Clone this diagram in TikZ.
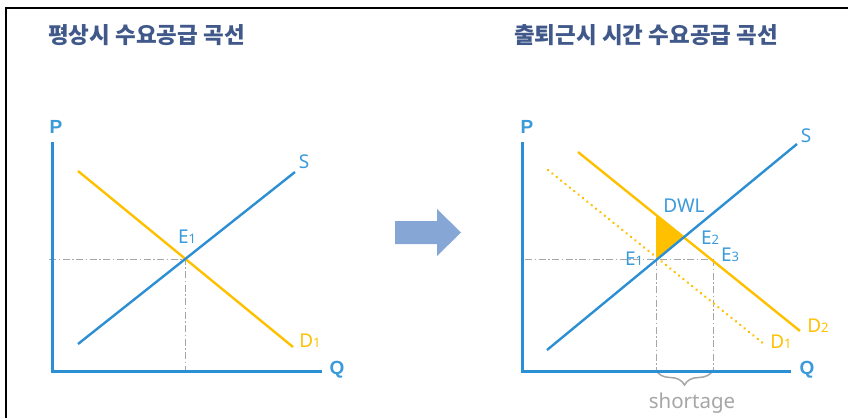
\documentclass[tikz,border=0pt]{standalone}
\usepackage{fontspec}
\setmainfont{Noto Sans}
\newfontfamily\krfont{Noto Sans CJK KR}
\newfontfamily\axfont{Liberation Sans}
\usetikzlibrary{decorations.pathreplacing}
\definecolor{lineblue}{HTML}{2C8FD4}
\definecolor{labblue}{HTML}{3A9ADA}
\definecolor{dyellow}{HTML}{FFC000}
\definecolor{dgray}{HTML}{A6A6A6}
\definecolor{titlecol}{HTML}{40598A}
\definecolor{arrowcol}{HTML}{86A7D6}
\newcommand\smd[1]{{\fontsize{13}{12}\selectfont #1}}
\tikzset{
  axisline/.style={draw=lineblue,line width=3pt},
  supply/.style={draw=lineblue,line width=2.4pt},
  demand/.style={draw=dyellow,line width=2.4pt},
  olddemand/.style={draw=dyellow,line width=2.8pt,line cap=round,dash pattern=on 0.01pt off 5.6pt},
  guide/.style={draw=dgray,line width=0.9pt,dash pattern=on 7pt off 2.5pt on 1.5pt off 2.5pt},
  lab/.style={text=labblue,font=\fontsize{19}{19}\selectfont,inner sep=0pt},
  axlab/.style={text=labblue,font=\axfont\bfseries\fontsize{19}{19}\selectfont,inner sep=0pt},
  titletext/.style={text=titlecol,font=\krfont\bfseries\fontsize{22.5}{22.5}\selectfont,inner sep=0pt,anchor=west},
}
\begin{document}
\begin{tikzpicture}[x=1pt,y=-1pt]
\useasboundingbox (0,0) rectangle (848,418);
% frame
\coordinate (fTL) at (6,8);
\coordinate (fTR) at (848,8);
\coordinate (fBL) at (6,418);
\draw[line width=1.4pt] (fTR) -- (fTL) -- (fBL);
% titles
\node[titletext] (t1) at (48,35) {평상시 수요공급 곡선};
\node[titletext] (t2) at (514,35) {출퇴근시 시간 수요공급 곡선};
% ===== left panel =====
\coordinate (lO) at (52,371);
\coordinate (lPtop) at (52,142);
\coordinate (lQend) at (322,371);
\coordinate (lS1) at (78,344);
\coordinate (lS2) at (295,172);
\coordinate (lD1) at (78,171);
\coordinate (lD2) at (293,347);
\coordinate (lE) at (185.5,259);
\coordinate (lEy) at (49,259);
\coordinate (lEx) at (185.5,371);
\draw[guide] (lEy) -- (lE) -- (lEx);
\draw[demand] (lD1) -- (lD2);
\draw[supply] (lS1) -- (lS2);
\draw[axisline] (lPtop) -- (lO) -- (lQend);
\node[axlab] (lP) at (56,127) {P};
\node[axlab] (lQ) at (337,370) {Q};
\node[lab] (lSl) at (304,162) {S};
\node[lab] (lE1) at (187,237) {E\smd{1}};
\node[lab,text=dyellow] (lD1l) at (310,341) {D\smd{1}};
% ===== arrow =====
\fill[arrowcol] (395,221) -- (437,221) -- (437,209) -- (461,232.5) -- (437,256) -- (437,244) -- (395,244) -- cycle;
% ===== right panel =====
\coordinate (rO) at (522,371);
\coordinate (rPtop) at (522,142);
\coordinate (rQend) at (791,371);
\coordinate (rS1) at (547,350);
\coordinate (rS2) at (797,144);
\coordinate (rDa) at (578,152);
\coordinate (rDb) at (800,331);
\coordinate (rda) at (548,170);
\coordinate (rdb) at (764,344);
\coordinate (rE1) at (656,259);
\coordinate (rE2) at (683.5,237.5);
\coordinate (rE3) at (713,259);
\coordinate (rDT) at (656,215);
\coordinate (rEy) at (525,259);
\coordinate (rB1) at (656,370);
\coordinate (rB2) at (713,370);
\fill[dyellow] (rDT) -- (rE2) -- (rE1) -- cycle;
\draw[guide] (rEy) -- (rE3);
\draw[guide] (rE1) -- (rB1);
\draw[guide] (rE3) -- (rB2);
\draw[draw=dgray,line width=1.5pt,decorate,decoration={brace,mirror,amplitude=15pt}] (rB1) -- (rB2);
\draw[olddemand] (rda) -- (rdb);
\draw[demand] (rDa) -- (rDb);
\draw[supply] (rS1) -- (rS2);
\draw[axisline] (rPtop) -- (rO) -- (rQend);
\node[axlab] (rP) at (527,127) {P};
\node[axlab] (rQ) at (807,370) {Q};
\node[lab] (rSl) at (806,136) {S};
\node[lab] (rDWL) at (684,206) {DWL};
\node[lab] (rE1l) at (634,259) {E\smd{1}};
\node[lab] (rE2l) at (710,238) {E\smd{2}};
\node[lab] (rE3l) at (730,255) {E\smd{3}};
\node[lab,text=dyellow] (rD2l) at (818,326) {D\smd{2}};
\node[lab,text=dyellow] (rD1l) at (781,342) {D\smd{1}};
\node[lab,text=dgray,font=\fontsize{20.5}{20}\selectfont] (short) at (692,403) {shortage};
\end{tikzpicture}
\end{document}
